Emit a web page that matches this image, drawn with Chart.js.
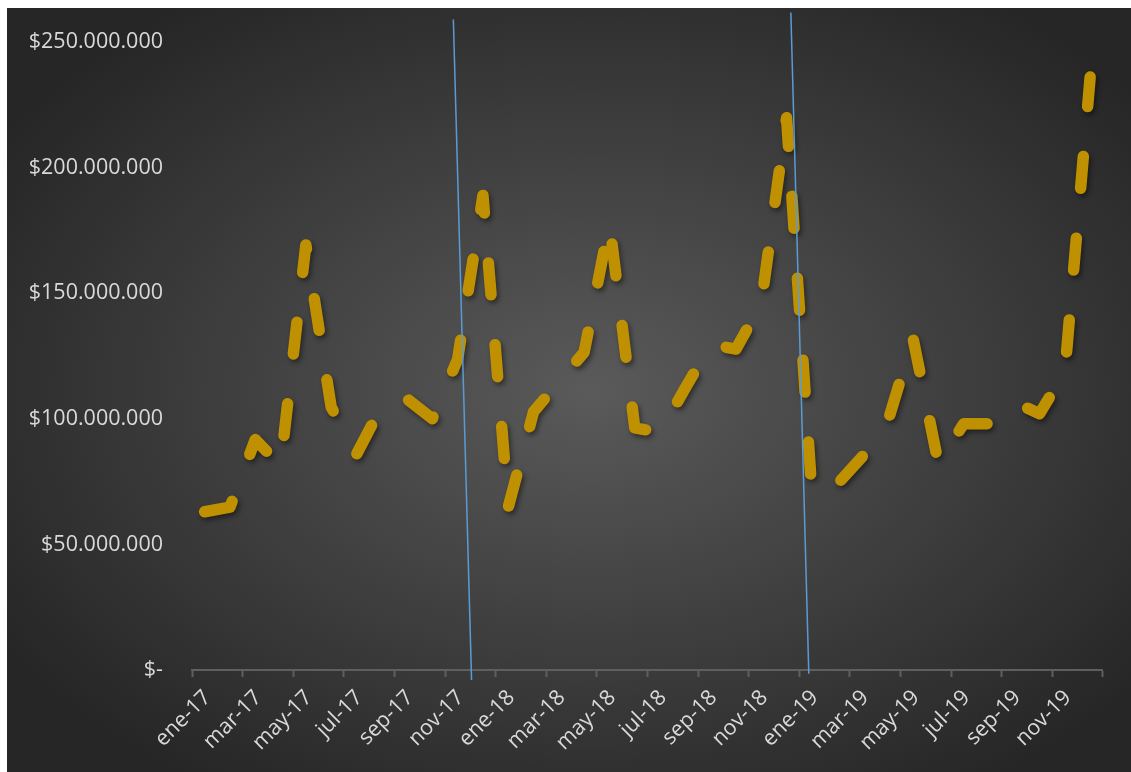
<!DOCTYPE html>
<html>
<head>
<meta charset="utf-8">
<script src="https://cdn.jsdelivr.net/npm/chart.js@4.4.1/dist/chart.umd.min.js"></script>
<style>
  html, body { margin: 0; padding: 0; background: #ffffff; overflow: hidden; }
  canvas { display: block; }
</style>
</head>
<body>
<canvas id="ventas" width="1131" height="772"></canvas>
<script>
// Monthly categories
const months = [
  'ene-17','feb-17','mar-17','abr-17','may-17','jun-17','jul-17','ago-17','sep-17','oct-17','nov-17','dic-17',
  'ene-18','feb-18','mar-18','abr-18','may-18','jun-18','jul-18','ago-18','sep-18','oct-18','nov-18','dic-18',
  'ene-19','feb-19','mar-19','abr-19','may-19','jun-19','jul-19','ago-19','sep-19','oct-19','nov-19','dic-19'
];

// Monthly sales (pesos)
const sales = [
   63000000,  64800000,  91700000,  81400000, 169200000, 104700000,
   85800000, 105100000, 107900000, 100000000, 123700000, 188900000,
   64800000, 102800000, 114600000, 126500000, 177900000,  96400000,
   94500000, 112300000, 129600000, 127700000, 145800000, 219800000,
   70800000,  73900000,  85000000,  98800000, 132000000,  82200000,
   98000000,  98000000, 106700000, 102000000, 118600000, 236000000
];

// Value axis range
const yMin = 0;
const yMax = 250000000;
const yStep = 50000000;

// Year separators: [category position, value] for each end
const separatorTop    = [[9.83, 258900000], [23.17, 261700000]];
const separatorBottom = [[10.55, -4000000], [23.88, -1500000]];

function pesos(v) {
  if (v === 0) return '$-';
  return '$' + Math.round(v).toString().replace(/\B(?=(\d{3})+(?!\d))/g, '.');
}

const FONT = { family: "'Open Sans', 'DejaVu Sans', sans-serif", size: 21.5 };
const LABEL = '#d9d9d9';
const AXIS = '#5f5f5f';

// Dark radial backdrop behind the plot
const backdrop = {
  id: 'backdrop',
  beforeDraw(chart) {
    const { ctx, width, height } = chart;
    ctx.save();
    ctx.fillStyle = '#ffffff';
    ctx.fillRect(0, 0, width, height);
    const x0 = 7, y0 = 8;
    const w = width - x0, h = height - y0;
    const cx = x0 + w * 0.52, cy = y0 + h * 0.5;
    ctx.beginPath();
    ctx.rect(x0, y0, w, h);
    ctx.clip();
    ctx.translate(cx, cy);
    ctx.scale(1, h / w);
    const r = w * 0.62;
    const g = ctx.createRadialGradient(0, 0, 0, 0, 0, r);
    g.addColorStop(0, '#5a5a5a');
    g.addColorStop(1, '#262626');
    ctx.fillStyle = g;
    ctx.fillRect(-w, -w, 2 * w, 2 * w);
    ctx.restore();
  }
};

// Soft drop shadow under the series line
const lineShadow = {
  id: 'lineShadow',
  beforeDatasetDraw(chart) {
    const ctx = chart.ctx;
    ctx.save();
    ctx.shadowColor = 'rgba(0,0,0,0.45)';
    ctx.shadowBlur = 5;
    ctx.shadowOffsetX = 2;
    ctx.shadowOffsetY = 3;
  },
  afterDatasetDraw(chart) {
    chart.ctx.restore();
  }
};

// Thin blue lines marking the change of year
const yearSeparators = {
  id: 'yearSeparators',
  afterDatasetsDraw(chart) {
    const { ctx, scales: { x, y } } = chart;
    ctx.save();
    ctx.strokeStyle = '#5B9BD5';
    ctx.lineWidth = 1.5;
    separatorTop.forEach((top, k) => {
      const bottom = separatorBottom[k];
      ctx.beginPath();
      ctx.moveTo(x.getPixelForValue(top[0]), y.getPixelForValue(top[1]));
      ctx.lineTo(x.getPixelForValue(bottom[0]), y.getPixelForValue(bottom[1]));
      ctx.stroke();
    });
    ctx.restore();
  }
};

new Chart(document.getElementById('ventas'), {
  type: 'line',
  data: {
    labels: months,
    datasets: [{
      data: sales,
      borderColor: '#BF9000',
      borderWidth: 11.5,
      borderDash: [32, 50.1],
      borderCapStyle: 'round',
      borderJoinStyle: 'round',
      pointRadius: 0,
      pointHoverRadius: 0,
      tension: 0,
      fill: false
    }]
  },
  options: {
    responsive: false,
    animation: false,
    devicePixelRatio: 1,
    layout: { padding: { top: 36, right: 28.2, bottom: 0, left: 0 } },
    plugins: {
      legend: { display: false },
      tooltip: { enabled: false }
    },
    scales: {
      x: {
        type: 'category',
        offset: true,
        grid: {
          display: true,
          offset: true,
          drawOnChartArea: false,
          drawTicks: true,
          tickLength: 7,
          tickWidth: 2,
          tickColor: c => (c.index === undefined || c.index % 2 === 0) ? AXIS : 'rgba(0,0,0,0)'
        },
        border: { display: true, color: AXIS, width: 2 },
        ticks: {
          autoSkip: false,
          minRotation: 45,
          maxRotation: 45,
          color: LABEL,
          font: FONT,
          padding: 8,
          labelOffset: 3,
          callback: (v, i) => (i % 2 === 0 ? months[i] : '')
        },
        afterFit: s => { s.height = 102; }
      },
      y: {
        min: yMin,
        max: yMax,
        grid: { display: false, drawTicks: false },
        border: { display: false },
        ticks: {
          stepSize: yStep,
          color: LABEL,
          font: FONT,
          padding: 29,
          callback: v => pesos(v)
        },
        afterFit: s => { s.width = 192; }
      }
    }
  },
  plugins: [backdrop, lineShadow, yearSeparators]
});
</script>
</body>
</html>
